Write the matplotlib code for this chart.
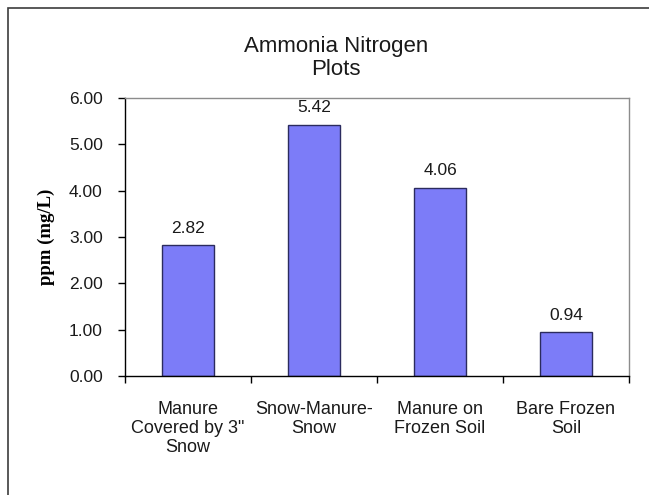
import matplotlib
matplotlib.use("Agg")
import matplotlib.pyplot as plt
from matplotlib.patches import Rectangle

categories = ['Manure\nCovered by 3"\nSnow', 'Snow-Manure-\nSnow',
              'Manure on\nFrozen Soil', 'Bare Frozen\nSoil']
values = [2.82, 5.42, 4.06, 0.94]
yticks = [0, 1, 2, 3, 4, 5, 6]

plt.rcParams['font.family'] = ['Liberation Sans', 'DejaVu Sans']

fig = plt.figure(figsize=(6.49, 4.95), dpi=100)
ax = fig.add_axes([125/649, 1 - 376/495, 504/649, 278/495])

x = list(range(len(categories)))
ax.bar(x, values, width=0.41, color='#7c7cf8', edgecolor='#2b2b5e',
       linewidth=1.0, zorder=2)

for xi, v in zip(x, values):
    ax.annotate(f"{v:.2f}", (xi, v), xytext=(0, 7), textcoords='offset points',
                ha='center', va='bottom', fontsize=12.5, color='#1a1a1a')

ax.set_xlim(-0.5, len(categories) - 0.5)
ax.set_ylim(0, 6)
ax.set_yticks(yticks)
ax.set_yticklabels([f"{t:.2f}" for t in yticks], fontsize=12.5, color='#1a1a1a')

# category boundaries get the tick marks, labels sit in the middle
ax.set_xticks([i - 0.5 for i in range(len(categories) + 1)])
ax.set_xticklabels([])
ax.set_xticks(x, minor=True)
ax.set_xticklabels(categories, minor=True, fontsize=13, color='#1a1a1a',
                   linespacing=1.15)
ax.tick_params(axis='x', which='minor', length=0, pad=18)
ax.tick_params(axis='x', which='major', length=5, width=1, direction='out')
ax.tick_params(axis='y', length=5, width=1, direction='out', pad=11)

for side in ['left', 'bottom']:
    ax.spines[side].set_color('black')
    ax.spines[side].set_linewidth(1.0)
for side in ['top', 'right']:
    ax.spines[side].set_color('#8c8c8c')
    ax.spines[side].set_linewidth(1.0)

ax.set_ylabel('ppm (mg/L)', fontsize=13.5, fontweight='bold',
              family=['Liberation Serif', 'DejaVu Serif'], labelpad=10)

fig.text(336/649, 1 - 58/495, 'Ammonia Nitrogen\nPlots', ha='center',
         va='center', fontsize=16, color='#1a1a1a', linespacing=1.15)

# outer chart frame, cut off by the image on the right and bottom
fig.patches.append(Rectangle((8/649, -0.1), 1.2, 1 - 8/495 + 0.1,
                             transform=fig.transFigure, fill=False,
                             edgecolor='#3c3c3c', linewidth=1.2))

fig.savefig('out.png', dpi=100)
